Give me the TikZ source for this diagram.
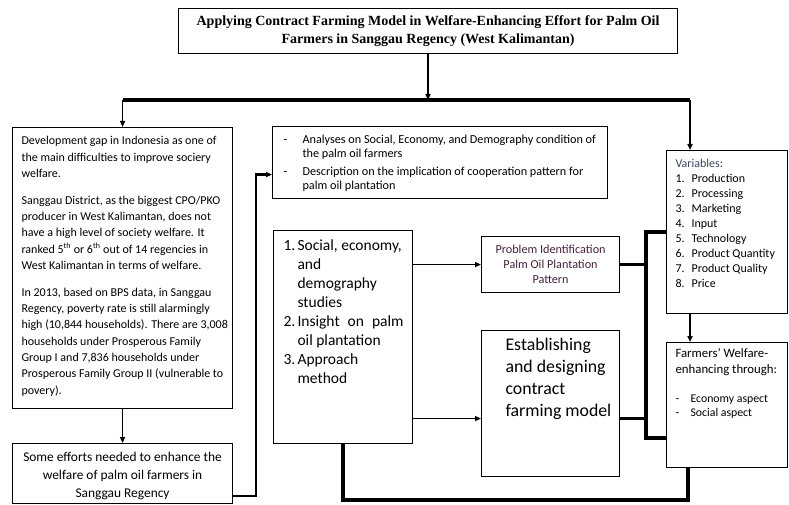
\documentclass[tikz,border=0pt]{standalone}
\usepackage{fontspec}
\setmainfont{Carlito}
\newfontfamily\titlefont{Liberation Serif}
\usetikzlibrary{arrows.meta,calc}
\definecolor{varcol}{HTML}{3A4560}
\definecolor{probcol}{HTML}{45203D}
% panel text and list helpers
\newcommand{\panelbox}[4]{\makebox[#1][l]{\hspace{#3}\parbox[c][#2][t]{\dimexpr#1-#3\relax}{#4}}}
\newcommand{\hangitem}[2]{\par\noindent\hangindent=#1\hangafter=1\makebox[#1][l]{#2}\ignorespaces}
\begin{document}
\begin{tikzpicture}[x=1pt,y=-1pt,
  panel/.style={draw, line width=1.1pt, anchor=north west, inner xsep=0pt, inner ysep=0pt},
  link/.style={line width=1.7pt, -{Triangle[length=6pt,width=5pt]}},
  bus/.style={line width=3.8pt, line join=miter},
  feed/.style={line width=2.3pt, -{Triangle[length=6pt,width=5pt]}}]
\useasboundingbox (0,0) rectangle (789,505);
%
\node[panel] (title) at (178,8) {\parbox[c][45pt][c]{499pt}{\centering
  \titlefont\bfseries\fontsize{14}{18}\selectfont
  Applying Contract Farming Model in Welfare-Enhancing Effort for Palm Oil\\
  Farmers in Sanggau Regency (West Kalimantan)}};
%
\node[panel, inner ysep=9pt] (gap) at (12,127) {\panelbox{220pt}{263pt}{9pt}{%
  \fontsize{12}{16.3}\selectfont\setlength{\parskip}{10.5pt}%
  Development gap in Indonesia as one of\\
  the main difficulties to improve sociery\\
  welfare.\par
  Sanggau District, as the biggest CPO/PKO\\
  producer in West Kalimantan, does not\\
  have a high level of society welfare. It\\
  ranked 5\textsuperscript{th} or 6\textsuperscript{th} out of 14 regencies in\\
  West Kalimantan in terms of welfare.\par
  In 2013, based on BPS data, in Sanggau\\
  Regency, poverty rate is still alarmingly\\
  high (10,844 households). There are 3,008\\
  households under Prosperous Family\\
  Group I and 7,836 households under\\
  Prosperous Family Group II (vulnerable to\\
  povery).}};
%
\node[panel, inner ysep=9pt] (effort) at (12,443) {\parbox[c][42pt][t]{220pt}{\centering
  \fontsize{13.4}{18}\selectfont
  Some efforts needed to enhance the\\
  welfare of palm oil farmers in\\
  Sanggau Regency}};
%
\node[panel, inner ysep=8pt] (analysis) at (272,126) {\panelbox{335pt}{56pt}{11pt}{%
  \fontsize{12.2}{14.3}\selectfont
  \hangitem{19pt}{-}Analyses on Social, Economy, and Demography condition of\\ the palm oil farmers\par
  \vspace{3.5pt}
  \hangitem{19pt}{-}Description on the implication of cooperation pattern for\\ palm oil plantation\par}};
%
\node[panel, inner ysep=9pt] (studies) at (273,230) {\panelbox{139pt}{195pt}{10pt}{%
  \fontsize{15.5}{19}\selectfont
  \hangitem{14pt}{1.}Social, economy,\\ and\\ demography\\ studies\par
  \hangitem{14pt}{2.}\makebox[106pt][s]{Insight on palm}\\ oil plantation\par
  \hangitem{14pt}{3.}Approach\\ method\par}};
%
\node[panel] (problem) at (481,236) {\parbox[c][56pt][c]{138pt}{\centering
  \color{probcol}\fontsize{12.2}{15}\selectfont
  Problem Identification\\ Palm Oil Plantation\\ Pattern}};
%
\node[panel, inner ysep=8pt] (estab) at (481,330) {\panelbox{138pt}{130pt}{24pt}{%
  \fontsize{17.8}{22}\selectfont
  Establishing\\ and designing\\ contract\\ farming model}};
%
\node[panel, inner ysep=9pt] (vars) at (666,150) {\panelbox{121pt}{145pt}{9pt}{%
  \fontsize{12}{15}\selectfont
  {\color{varcol}Variables:}\par
  \hangitem{16pt}{1.}Production
  \hangitem{16pt}{2.}Processing
  \hangitem{16pt}{3.}Marketing
  \hangitem{16pt}{4.}Input
  \hangitem{16pt}{5.}Technology
  \hangitem{16pt}{6.}Product Quantity
  \hangitem{16pt}{7.}Product Quality
  \hangitem{16pt}{8.}Price\par}};
%
\node[panel, inner ysep=6pt] (welfare) at (666,342) {\panelbox{121pt}{113pt}{9pt}{%
  \fontsize{12.8}{16}\selectfont
  Farmers’ Welfare-\\ enhancing through:\par
  \vspace{15pt}
  \fontsize{11.8}{14}\selectfont
  \hangitem{15pt}{-}Economy aspect
  \hangitem{15pt}{-}Social aspect\par}};
%
\coordinate (split) at (428,100);
\coordinate (varsin) at ($(vars.north west)+(24,0)$);
\coordinate (effortout) at ($(effort.south east)+(0,-8)$);
\coordinate (anin) at ($(analysis.west)+(0,12)$);
\coordinate (estabin) at ($(estab.west)+(0,15)$);
\coordinate (spine) at ($(problem.east)+(26,0)$);
\coordinate (varsleft) at ($(vars.north west)+(0,82)$);
\coordinate (welfleft) at ($(welfare.north west)+(0,96)$);
\coordinate (welfbot) at ($(welfare.south west)+(22,0)$);
%
\draw[link] (title.south) -- (split);
\draw[bus] (gap.north |- split) -- (varsin |- split);
\draw[link] (gap.north |- split) -- (gap.north);
\draw[link] (varsin |- split) -- (varsin);
%
\draw[link] (gap.south) -- (effort.north);
\draw[feed] (effortout) -| ($(anin)+(-16,0)$) -- (anin);
%
\draw[link] (studies.east |- problem.west) -- (problem.west);
\draw[link] (studies.east |- estabin) -- (estabin);
\draw[bus] (problem.east) -- (problem.east -| spine);
\draw[bus] (estabin -| estab.east) -- (estabin -| spine);
\draw[bus] (varsleft) -| (spine) |- (welfleft);
%
\draw[link] (varsin |- vars.south) -- (varsin |- welfare.north);
\draw[bus] (studies.south) |- ($(welfbot)+(0,32)$) -- (welfbot);
\end{tikzpicture}
\end{document}
